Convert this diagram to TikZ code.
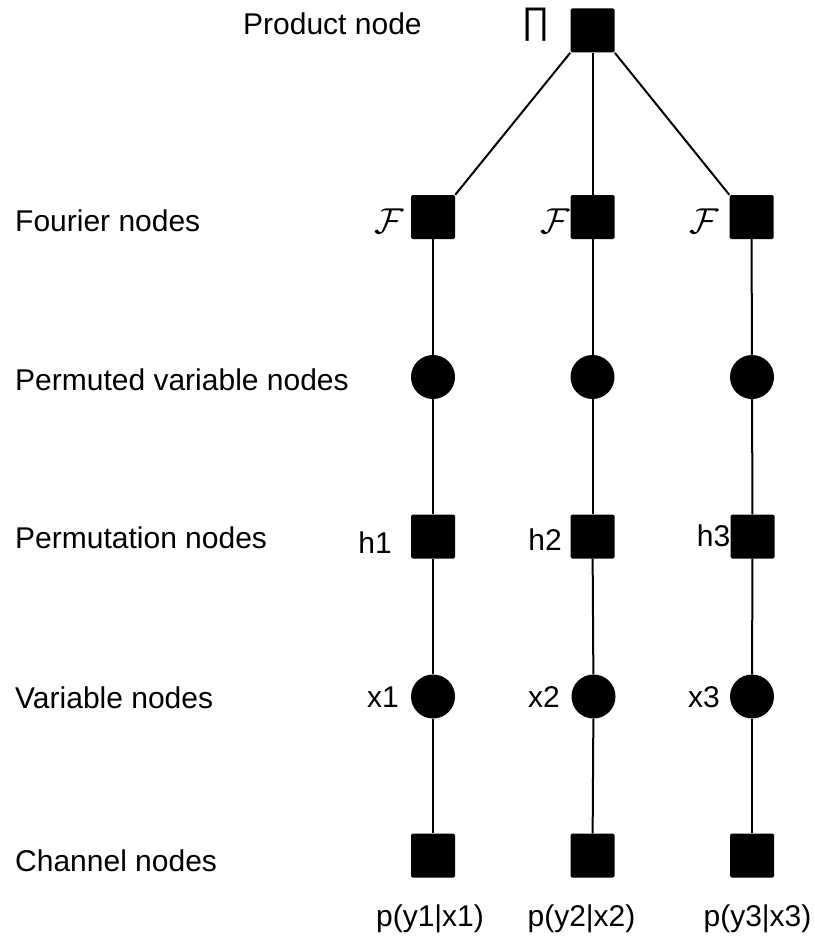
\RequirePackage{fix-cm}
\documentclass[tikz,border=0pt]{standalone}
\usepackage{fontspec}
\setmainfont{Liberation Sans}
\begin{document}
\begin{tikzpicture}[x=1pt,y=-1pt,
  fsq/.style={rectangle,fill=black,draw=none,minimum size=44pt,inner sep=0pt,rounded corners=1.5pt},
  vdot/.style={circle,fill=black,draw=none,minimum size=44pt,inner sep=0pt},
  edge/.style={line width=2pt,line cap=butt},
  rowlabel/.style={anchor=base west,inner sep=0pt,font=\fontsize{30}{36}\selectfont},
  tag/.style={anchor=base,inner sep=0pt,font=\fontsize{30}{36}\selectfont},
  fourier/.style={inner sep=0pt,font=\fontsize{36}{40}\selectfont}]
\useasboundingbox (0,0) rectangle (814,936);

% product node
\node[fsq] (prod) at (592.5,30.5) {};
\node[inner sep=0pt,font=\fontsize{37}{40}\selectfont,xscale=0.9] (prodsym) at (535.5,24.5) {∏};

% Fourier nodes
\node[fsq] (f1) at (433,217) {};
\node[fsq] (f2) at (592.5,217) {};
\node[fsq] (f3) at (751.5,217) {};
\node[fourier] (lf1) at (389,221) {$\mathcal{F}$};
\node[fourier] (lf2) at (555,221) {$\mathcal{F}$};
\node[fourier] (lf3) at (704.5,221) {$\mathcal{F}$};

% permuted variable nodes
\node[vdot] (pv1) at (433,377) {};
\node[vdot] (pv2) at (592.5,377) {};
\node[vdot] (pv3) at (752,377) {};

% permutation nodes
\node[fsq] (h1) at (433,536.5) {};
\node[fsq] (h2) at (592.5,536.5) {};
\node[fsq] (h3) at (752.5,536.5) {};
\node[tag] (lh1) at (375,553) {h1};
\node[tag] (lh2) at (545,550.5) {h2};
\node[tag] (lh3) at (713.5,546.5) {h3};

% variable nodes
\node[vdot] (x1) at (433,696.5) {};
\node[vdot] (x2) at (593.5,696.5) {};
\node[vdot] (x3) at (752,696.5) {};
\node[tag] (lx1) at (383,707) {x1};
\node[tag] (lx2) at (544,707) {x2};
\node[tag] (lx3) at (704,707) {x3};

% channel nodes
\node[fsq] (c1) at (433,855.5) {};
\node[fsq] (c2) at (592.5,855.5) {};
\node[fsq] (c3) at (752,855.5) {};
\node[tag] (lc1) at (430,926.5) {p(y1|x1)};
\node[tag] (lc2) at (581.5,926.5) {p(y2|x2)};
\node[tag] (lc3) at (757.5,926.5) {p(y3|x3)};

% row captions
\node[rowlabel] (rprod) at (243,35) {Product node};
\node[rowlabel] (rfour) at (15,231) {Fourier nodes};
\node[rowlabel] (rpv) at (15,390) {Permuted variable nodes};
\node[rowlabel] (rperm) at (15,548) {Permutation nodes};
\node[rowlabel] (rvar) at (15,708) {Variable nodes};
\node[rowlabel] (rchan) at (15,871) {Channel nodes};

% connectors
\draw[edge] (prod.south west) -- (f1.north east);
\draw[edge] (prod.south) -- (f2.north);
\draw[edge] (prod.south east) -- (f3.north west);
\foreach \i in {1,2,3}{
  \draw[edge] (f\i) -- (pv\i);
  \draw[edge] (pv\i) -- (h\i);
  \draw[edge] (h\i) -- (x\i);
  \draw[edge] (x\i) -- (c\i);
}
\end{tikzpicture}
\end{document}
